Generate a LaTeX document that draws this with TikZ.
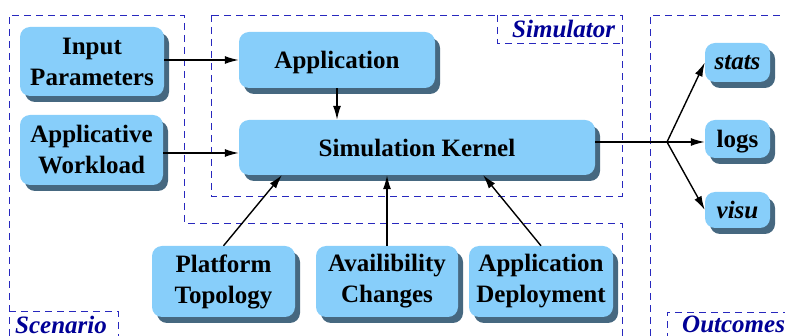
\documentclass[tikz,border=0pt]{standalone}
\usepackage{fontspec}
\setmainfont{Liberation Serif}
\usetikzlibrary{shadows,arrows.meta}
\definecolor{nodeblue}{RGB}{135,206,250}
\definecolor{shadowcol}{RGB}{70,104,128}
\definecolor{regioncol}{RGB}{40,40,190}
\definecolor{labelcol}{RGB}{0,0,150}
\tikzset{
  box/.style={rectangle, rounded corners=10pt, fill=nodeblue, draw=none,
    align=center, inner sep=0pt, text=black,
    font=\bfseries\fontsize{25}{31}\selectfont,
    drop shadow={shadow xshift=5pt, shadow yshift=-6pt, fill=shadowcol, opacity=1}},
  region/.style={draw=regioncol, line width=0.9pt, dash pattern=on 7pt off 5pt},
  regionlabel/.style={text=labelcol, inner sep=0pt,
    font=\bfseries\itshape\fontsize{25}{31}\selectfont},
  conn/.style={line width=1.4pt, -{Latex[length=14pt,width=8pt]}},
  plain/.style={line width=1.4pt}
}
\begin{document}
\begin{tikzpicture}[x=1pt,y=-1pt]
\useasboundingbox (0,0) rectangle (785,336);
% regions
\draw[region] (9,336) -- (9,15) -- (184,15) -- (184,223) -- (622,223) -- (622,336);
\draw[region] (211,15) rectangle (622,196);
\draw[region] (497,15) -- (497,43) -- (622,43);
\draw[region] (650,336) -- (650,15) -- (790,15);
\draw[region] (9,311) -- (118,311) -- (118,340);
\draw[region] (667,340) -- (667,312) -- (790,312);
\node[regionlabel, anchor=base west] (lsim) at (512,37.5) {Simulator};
\node[regionlabel, anchor=base west] (lscen) at (15,334) {Scenario};
\node[regionlabel, anchor=base west] (lout) at (682,333) {Outcomes};
% nodes
\node[box, minimum width=144pt, minimum height=69pt] (inp) at (92,61.5) {Input\\Parameters};
\node[box, minimum width=143pt, minimum height=70pt] (wl) at (91.5,150) {Applicative\\Workload};
\node[box, minimum width=196pt, minimum height=56pt, text depth=0pt] (app) at (337,60) {Application};
\node[box, minimum width=356pt, minimum height=55pt] (sk) at (417,147.5) {Simulation Kernel};
\node[box, minimum width=65pt, minimum height=39pt] (stats) at (737.5,62.5) {\itshape stats};
\node[box, minimum width=65pt, minimum height=38pt, text depth=0pt] (logs) at (737.5,139) {logs};
\node[box, minimum width=65pt, minimum height=36pt] (visu) at (737.5,210) {\itshape visu};
\node[box, minimum width=143pt, minimum height=71pt] (pt) at (223.5,281.5) {Platform\\Topology};
\node[box, minimum width=142pt, minimum height=71pt] (av) at (387,281.5) {Availibility\\Changes};
\node[box, minimum width=144pt, minimum height=71pt] (ad) at (541,281.5) {Application\\Deployment};
% connectors
\draw[conn] (inp.east |- app.west) -- (app.west);
\draw[conn] (wl.east |- 0,153) -- (sk.west |- 0,153);
\draw[conn] (app.south) -- (sk.north -| app.south);
\coordinate (c1) at (282,175);
\coordinate (c3) at (483,175);
\draw[conn] (pt.north) -- (c1);
\draw[conn] (av.north) -- (sk.south -| av.north);
\draw[conn] (ad.north) -- (c3);
\coordinate (split) at (667,142);
\draw[plain] (sk.east |- split) -- (split);
\draw[conn] (split) -- (stats.west);
\draw[conn] (split) -- (logs.west |- split);
\draw[conn] (split) -- (visu.west);
\end{tikzpicture}
\end{document}
